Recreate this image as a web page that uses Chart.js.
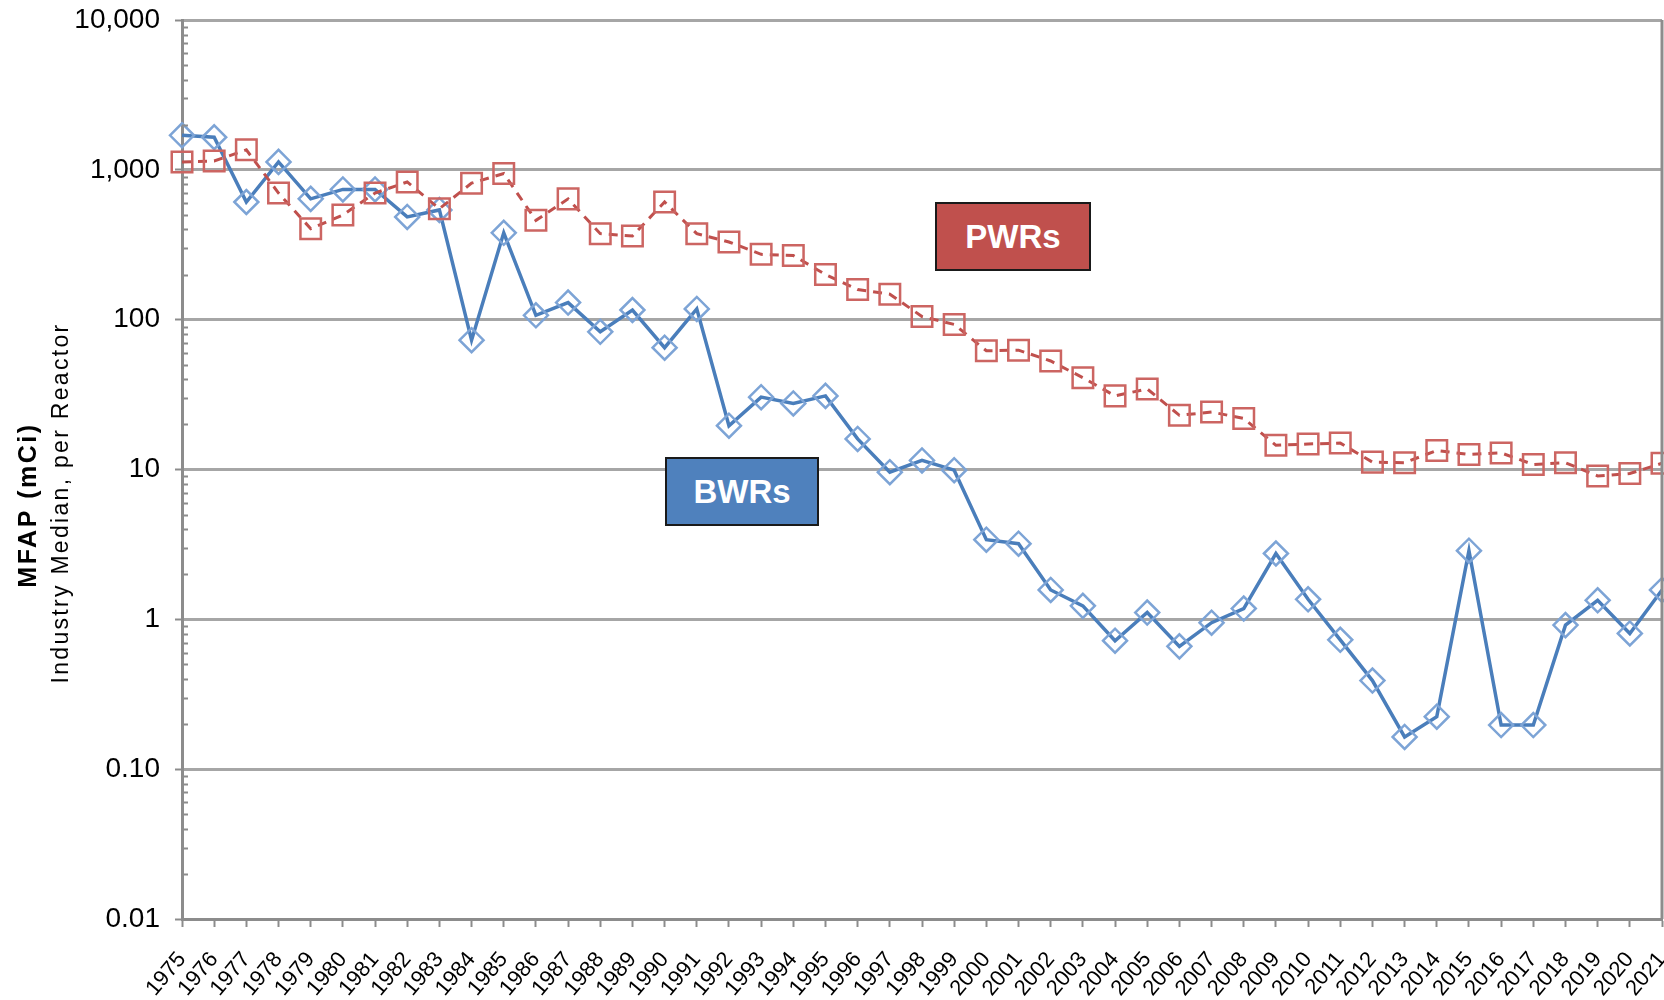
<!DOCTYPE html>
<html>
<head>
<meta charset="utf-8">
<script src="https://cdn.jsdelivr.net/npm/chart.js@4.4.0/dist/chart.umd.min.js"></script>
<style>
  html, body { margin: 0; padding: 0; background: #fff; }
  #wrap { width: 1664px; height: 1000px; position: relative; }
  .tag {
    position: absolute; box-sizing: border-box; border: 2px solid #1a1a1a;
    color: #fff; font: bold 33px 'Liberation Sans', Arial, sans-serif;
    display: flex; align-items: center; justify-content: center;
  }
  #pwrTag { left: 935px; top: 202px; width: 156px; height: 69px; background: #c0504d; }
  #bwrTag { left: 665px; top: 457px; width: 154px; height: 69px; background: #4f81bd; }
</style>
</head>
<body>
<div id="wrap">
  <canvas id="mfapChart" width="1664" height="1000"></canvas>
  <div class="tag" id="pwrTag">PWRs</div>
  <div class="tag" id="bwrTag">BWRs</div>
</div>
<script>
const years = ['1975', '1976', '1977', '1978', '1979', '1980', '1981', '1982', '1983', '1984',
  '1985', '1986', '1987', '1988', '1989', '1990', '1991', '1992', '1993', '1994',
  '1995', '1996', '1997', '1998', '1999', '2000', '2001', '2002', '2003', '2004',
  '2005', '2006', '2007', '2008', '2009', '2010', '2011', '2012', '2013', '2014',
  '2015', '2016', '2017', '2018', '2019', '2020', '2021'];

// median MFAP per reactor, mCi
const bwrValues = [1700, 1650, 610, 1130, 640, 740, 740, 485, 540, 73,
  380, 107, 130, 83, 116, 65, 118, 19.6, 30.4, 27.6,
  31, 16, 9.6, 11.5, 9.9, 3.4, 3.2, 1.57, 1.23, 0.72,
  1.11, 0.66, 0.95, 1.18, 2.75, 1.36, 0.73, 0.39, 0.164, 0.224,
  2.87, 0.197, 0.197, 0.915, 1.34, 0.805, 1.57];

const pwrValues = [1130, 1145, 1360, 700, 405, 500, 700, 830, 550, 815,
  945, 460, 640, 375, 362, 610, 375, 330, 273, 268,
  200, 159, 148, 105, 93, 62, 62.6, 53, 41, 31,
  34.5, 23, 24.2, 21.9, 14.5, 14.8, 15, 11.2, 11.1, 13.4,
  12.6, 12.9, 10.8, 11.1, 9.06, 9.4, 11.0];

const yTickValues = [0.01, 0.1, 1, 10, 100, 1000, 10000];
const yTickLabels = ['0.01', '0.10', '1', '10', '100', '1,000', '10,000'];
const yTitle = ['MFAP (mCi)', 'Industry Median, per Reactor'];

const FONT = "'Liberation Sans', Arial, sans-serif";
const AXIS_GRAY = '#8c8c8c';

// minor log ticks on the inside of the y axis, right frame line, y title
const frameAndMinor = {
  id: 'frameAndMinor',
  afterDraw(chart) {
    const { ctx, chartArea, scales } = chart;
    const y = scales.y;
    ctx.save();
    ctx.strokeStyle = AXIS_GRAY;
    ctx.lineWidth = 2;
    ctx.beginPath();
    for (let i = 0; i < yTickValues.length - 1; i++) {
      for (let k = 2; k <= 9; k++) {
        const py = Math.round(y.getPixelForValue(yTickValues[i] * k)) + 0.5;
        ctx.moveTo(chartArea.left, py);
        ctx.lineTo(chartArea.left + 6, py);
      }
    }
    ctx.stroke();
    ctx.lineWidth = 3;
    ctx.beginPath();
    ctx.moveTo(chartArea.right, chartArea.top);
    ctx.lineTo(chartArea.right, chartArea.bottom);
    ctx.stroke();

    // two-line y title, first line bold
    ctx.fillStyle = '#000';
    ctx.textAlign = 'center';
    ctx.textBaseline = 'middle';
    ctx.translate(0, 505);
    ctx.rotate(-Math.PI / 2);
    ctx.font = 'bold 25px ' + FONT;
    ctx.letterSpacing = '2.5px';
    ctx.fillText(yTitle[0], 0, 29);
    ctx.font = '23px ' + FONT;
    ctx.letterSpacing = '2.3px';
    ctx.fillText(yTitle[1], 2, 62);
    ctx.restore();
  },
};

const ctx = document.getElementById('mfapChart');

new Chart(ctx, {
  type: 'line',
  data: {
    labels: years,
    datasets: [
      {
        label: 'PWRs',
        data: pwrValues,
        borderColor: '#c0504d',
        borderWidth: 3,
        borderDash: [9, 7],
        pointStyle: 'rect',
        pointRadius: 14.5,
        pointBorderColor: '#cc6562',
        pointBorderWidth: 2.5,
        pointBackgroundColor: 'rgba(0,0,0,0)',
        tension: 0,
        clip: false,
      },
      {
        label: 'BWRs',
        data: bwrValues,
        borderColor: '#4a7ebb',
        borderWidth: 3.5,
        pointStyle: 'rectRot',
        pointRadius: 12,
        pointBorderColor: '#7da4d6',
        pointBorderWidth: 2.5,
        pointBackgroundColor: 'rgba(0,0,0,0)',
        tension: 0,
        clip: false,
      },
    ],
  },
  options: {
    responsive: false,
    animation: false,
    layout: { autoPadding: false, padding: { top: 20, right: 2, left: 0, bottom: 0 } },
    plugins: {
      legend: { display: false },
      tooltip: { enabled: false },
    },
    scales: {
      x: {
        grid: { drawOnChartArea: false, tickLength: 8, tickColor: AXIS_GRAY, tickWidth: 2 },
        border: { color: AXIS_GRAY, width: 3 },
        ticks: {
          autoSkip: false,
          minRotation: 50,
          maxRotation: 50,
          padding: 20,
          color: '#000',
          font: { family: FONT, size: 22 },
        },
        afterFit: (scale) => {
          scale.height = 81;
          scale.paddingLeft = 0;
          scale.paddingRight = 0;
        },
      },
      y: {
        type: 'logarithmic',
        min: 0.01,
        max: 10000,
        afterBuildTicks: (scale) => {
          scale.ticks = yTickValues.map((v) => ({ value: v }));
        },
        afterFit: (scale) => {
          scale.width = 182;
          scale.paddingTop = 0;
          scale.paddingBottom = 0;
        },
        grid: { color: '#a6a6a6', lineWidth: 3, tickLength: 7, tickColor: AXIS_GRAY, tickWidth: 2 },
        border: { color: AXIS_GRAY, width: 3 },
        ticks: {
          callback: (value) => yTickLabels[yTickValues.indexOf(value)],
          padding: 15,
          color: '#000',
          font: { family: FONT, size: 28 },
        },
      },
    },
  },
  plugins: [frameAndMinor],
});
</script>
</body>
</html>
